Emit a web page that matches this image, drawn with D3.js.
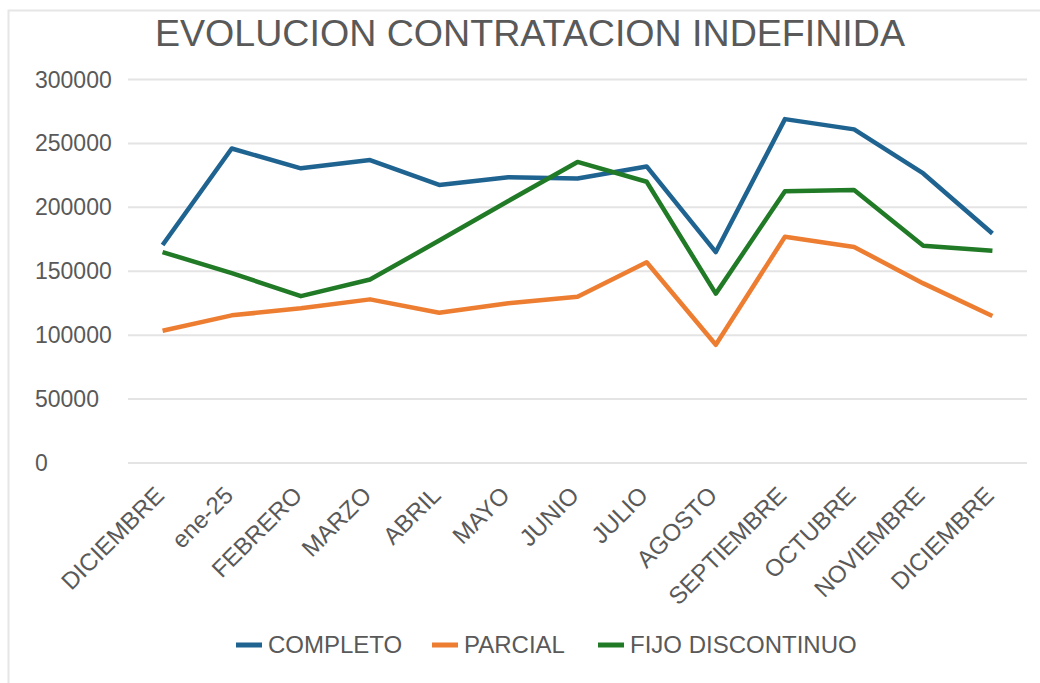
<!DOCTYPE html>
<html lang="es">
<head>
    <meta charset="UTF-8">
    <title>Evolucion contratacion indefinida</title>
    <script src="https://d3js.org/d3.v7.min.js"></script>
    <style>
        body { margin: 0; background: #fff; }
        text { font-family: "Liberation Sans", Arial, sans-serif; fill: #595959; }
    </style>
</head>
<body>
    <div id="my_dataviz"></div>

    <script>

        // data
        const months = ["DICIEMBRE", "ene-25", "FEBRERO", "MARZO", "ABRIL", "MAYO", "JUNIO",
                        "JULIO", "AGOSTO", "SEPTIEMBRE", "OCTUBRE", "NOVIEMBRE", "DICIEMBRE"];
        const completo = [170500, 246000, 230500, 237000, 217500, 223500, 222500,
                          232000, 165000, 269000, 261000, 226500, 179500];
        const parcial  = [103500, 115500, 121000, 128000, 117500, 125000, 130000,
                          157000, 92500, 177000, 169000, 140500, 115000];
        const fijo     = [165000, 148500, 130500, 143500, 174000, 205000, 235500,
                          220000, 132500, 212500, 213500, 170000, 166000];
        const yTicks = [0, 50000, 100000, 150000, 200000, 250000, 300000];

        const series = [
            {name: "COMPLETO", values: completo, color: "#1f6391"},
            {name: "PARCIAL", values: parcial, color: "#ed7d31"},
            {name: "FIJO DISCONTINUO", values: fijo, color: "#217a26"}
        ];

        const W = 1040, H = 683;

        const svg = d3.select("#my_dataviz")
            .append("svg")
            .attr("width", W)
            .attr("height", H);

        // outer chart border (runs off the right and bottom of the picture)
        svg.append("rect")
            .attr("x", 8.5).attr("y", 10.5)
            .attr("width", 1200).attr("height", 900)
            .attr("fill", "#fff")
            .attr("stroke", "#e6e6e6")
            .attr("stroke-width", 2);

        // title
        svg.append("text")
            .attr("x", 155).attr("y", 46)
            .attr("textLength", 750)
            .attr("lengthAdjust", "spacingAndGlyphs")
            .style("font-size", "36px")
            .text("EVOLUCION CONTRATACION INDEFINIDA");

        // scales
        const x = d3.scalePoint()
            .domain(d3.range(months.length))
            .range([128, 1027])
            .padding(0.5);

        const y = d3.scaleLinear()
            .domain([0, 300000])
            .range([463, 79.5]);

        // gridlines
        svg.append("g")
            .selectAll("line")
            .data(yTicks)
            .join("line")
                .attr("x1", 128).attr("x2", 1027)
                .attr("y1", d => y(d)).attr("y2", d => y(d))
                .attr("stroke", "#e4e4e4")
                .attr("stroke-width", 2);

        // y labels (left aligned like the original)
        svg.append("g")
            .selectAll("text")
            .data(yTicks)
            .join("text")
                .attr("x", 35)
                .attr("y", d => y(d))
                .attr("dy", "0.35em")
                .style("font-size", "23px")
                .text(d => d);

        // x labels, rotated
        svg.append("g")
            .selectAll("text")
            .data(months)
            .join("text")
                .attr("text-anchor", "end")
                .attr("transform", (d, i) => `translate(${x(i) - 9},${485})rotate(-45)`)
                .attr("dy", "0.7em")
                .style("font-size", "24px")
                .text(d => d);

        // lines
        const line = d3.line()
            .x((d, i) => x(i))
            .y(d => y(d));

        svg.append("g")
            .selectAll("path")
            .data(series)
            .join("path")
                .attr("d", d => line(d.values))
                .attr("fill", "none")
                .attr("stroke", d => d.color)
                .attr("stroke-width", 4.5)
                .attr("stroke-linejoin", "round");

        // legend
        const legendX = [236, 432, 598];
        const legend = svg.append("g")
            .selectAll("g")
            .data(series)
            .join("g")
                .attr("transform", (d, i) => `translate(${legendX[i]},645)`);

        legend.append("line")
            .attr("x1", 0).attr("x2", 26)
            .attr("stroke", d => d.color)
            .attr("stroke-width", 5);

        legend.append("text")
            .attr("x", 32)
            .attr("dy", "0.35em")
            .style("font-size", "24px")
            .text(d => d.name);

    </script>
</body>
</html>
